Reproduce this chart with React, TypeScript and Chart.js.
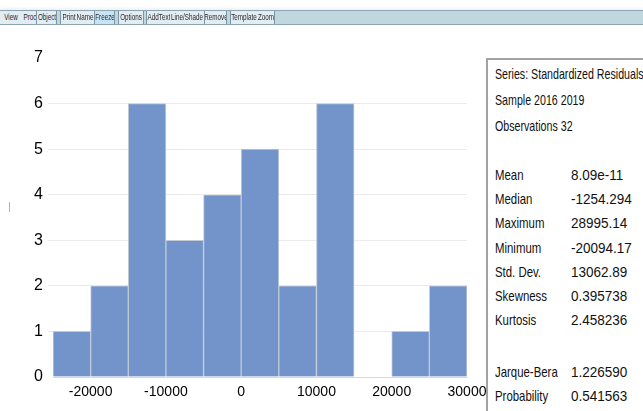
import React, { useEffect, useRef } from "react";
import { Chart, registerables } from "chart.js";

Chart.register(...registerables);

// ---- data ----
const binCenters = [-22500, -17500, -12500, -7500, -2500, 2500, 7500, 12500, 17500, 22500, 27500];
const counts = [1, 2, 6, 3, 4, 5, 2, 6, 0, 1, 2];
const xTicks = [-20000, -10000, 0, 10000, 20000, 30000];
const yTicks = [0, 1, 2, 3, 4, 5, 6, 7];

const headerLines = ["Series: Standardized Residuals", "Sample 2016 2019", "Observations 32"];
const statLabels = ["Mean", "Median", "Maximum", "Minimum", "Std. Dev.", "Skewness", "Kurtosis"];
const statValues = ["8.09e-11", "-1254.294", "28995.14", "-20094.17", "13062.89", "0.395738", "2.458236"];
const testLabels = ["Jarque-Bera", "Probability"];
const testValues = ["1.226590", "0.541563"];

const toolbarGroups = [
  ["View", "Proc", "Object"],
  ["Print", "Name", "Freeze"],
  ["Options"],
  ["AddText", "Line/Shade", "Remove"],
  ["Template", "Zoom"],
];
const toolbarWidths = [
  [26, 14, 20],
  [16, 19, 20],
  [25],
  [24, 35, 22],
  [27, 18],
];

const FONT = '"Liberation Sans", Arial, sans-serif';

function Squeezed({ text, scale }: { text: string; scale: number }) {
  return (
    <span style={{ display: "inline-block", transform: `scaleX(${scale})`, transformOrigin: "left center" }}>
      {text}
    </span>
  );
}

function Toolbar() {
  const items: React.ReactNode[] = [];
  let x = -3;
  toolbarGroups.forEach((g, gi) => {
    g.forEach((name, i) => {
      const w = toolbarWidths[gi][i];
      items.push(
        <div
          key={name}
          style={{
            position: "absolute",
            left: x,
            top: 0,
            width: w - 1,
            height: 13,
            background: name === "Freeze" ? "#c6e4f4" : "#e3ecf0",
            borderRight: "1px solid #7d96a6",
            borderLeft: i === 0 ? "1px solid #7d96a6" : "none",
            fontSize: 9,
            lineHeight: "13px",
            color: "#2a2a2a",
            whiteSpace: "nowrap",
            overflow: "hidden",
          }}
        >
          <span
            style={{
              position: "absolute",
              left: "50%",
              top: 0,
              width: "max-content",
              transform: "translateX(-50%) scaleX(0.7)",
              transformOrigin: "center",
            }}
          >
            {name}
          </span>
        </div>
      );
      x += w;
    });
    x += 3;
  });
  return (
    <div
      style={{
        position: "absolute",
        left: 0,
        top: 10,
        width: 643,
        height: 13,
        background: "#c1d7e0",
        borderTop: "1px solid #8aa4b4",
        borderBottom: "1px solid #8aa4b4",
        boxShadow: "0 -2px 3px rgba(0,0,0,0.06)",
        fontFamily: FONT,
      }}
    >
      {items}
    </div>
  );
}

function StatsBox() {
  const rowStyle = (top: number, left: number): React.CSSProperties => ({
    position: "absolute",
    top: top - 10,
    left,
    height: 20,
    lineHeight: "20px",
    fontSize: 15,
    fontFamily: FONT,
    color: "#111",
    whiteSpace: "nowrap",
  });
  const labelX = 495;
  const valueX = 571;
  const ls = 0.76;
  const vs = 0.9;
  return (
    <>
      <div
        style={{
          position: "absolute",
          left: 486,
          top: 58,
          width: 300,
          height: 400,
          borderLeft: "2px solid #a3a3a3",
          borderTop: "2px solid #a3a3a3",
          background: "#fff",
        }}
      />
      {headerLines.map((t, i) => (
        <div key={t} style={rowStyle(74 + i * 26, labelX)}><Squeezed text={t} scale={0.71} /></div>
      ))}
      {statLabels.map((t, i) => (
        <React.Fragment key={t}>
          <div style={rowStyle(175 + i * 24.2, labelX)}><Squeezed text={t} scale={ls} /></div>
          <div style={rowStyle(175 + i * 24.2, valueX)}><Squeezed text={statValues[i]} scale={vs} /></div>
        </React.Fragment>
      ))}
      {testLabels.map((t, i) => (
        <React.Fragment key={t}>
          <div style={rowStyle(372 + i * 24, labelX)}><Squeezed text={t} scale={ls} /></div>
          <div style={rowStyle(372 + i * 24, valueX)}><Squeezed text={testValues[i]} scale={vs} /></div>
        </React.Fragment>
      ))}
    </>
  );
}

export default function App() {
  const ref = useRef<HTMLCanvasElement | null>(null);
  useEffect(() => {
    if (!ref.current) return;
    const chart = new Chart(ref.current, {
      type: "bar",
      data: {
        datasets: [
          {
            data: binCenters.map((x, i) => ({ x, y: counts[i] })),
            backgroundColor: "#7294cb",
            borderColor: "#c3cad6",
            borderWidth: 1,
            borderSkipped: "start",
            barPercentage: 1,
            categoryPercentage: 1,
          } as any,
        ],
      },
      options: {
        animation: false,
        responsive: false,
        devicePixelRatio: 1,
        layout: { padding: { top: 58, right: 176, left: 0, bottom: 0 } },
        plugins: { legend: { display: false }, tooltip: { enabled: false }, title: { display: false } },
        scales: {
          x: {
            type: "linear",
            min: -25000,
            max: 30000,
            offset: false,
            grid: { display: false, drawTicks: false },
            border: { display: true, color: "#d9d9d9" },
            ticks: {
              color: "#000",
              padding: 7,
              maxRotation: 0,
              autoSkip: false,
              font: { family: FONT, size: 14 },
              callback: (v: any) => String(v),
            },
            afterBuildTicks: (s: any) => {
              s.ticks = xTicks.map((v) => ({ value: v }));
            },
            afterFit: (s: any) => {
              s.height = 34;
            },
          },
          y: {
            type: "linear",
            min: 0,
            max: 7,
            grid: {
              color: (ctx: any) =>
                ctx.tick && (ctx.tick.value === 7 || ctx.tick.value === 0) ? "rgba(0,0,0,0)" : "#ebebeb",
              tickLength: 5,
              drawTicks: true,
            },
            border: { display: false },
            ticks: {
              color: "#000",
              padding: 5,
              font: { family: FONT, size: 16 },
              callback: (v: any) => String(v),
            },
            afterBuildTicks: (s: any) => {
              s.ticks = yTicks.map((v) => ({ value: v }));
            },
            afterFit: (s: any) => {
              s.width = 53;
            },
          },
        },
      } as any,
    });
    return () => chart.destroy();
  }, []);

  return (
    <div
      style={{
        position: "fixed",
        left: 0,
        top: 0,
        width: 643,
        height: 411,
        overflow: "hidden",
        background: "#fff",
      }}
    >
      <canvas ref={ref} width={643} height={411} style={{ position: "absolute", left: 0, top: 0, width: 643, height: 411 }} />
      <Toolbar />
      <div style={{ position: "absolute", left: 9, top: 202, width: 1, height: 10, background: "#a9b4c0" }} />
      <StatsBox />
    </div>
  );
}
